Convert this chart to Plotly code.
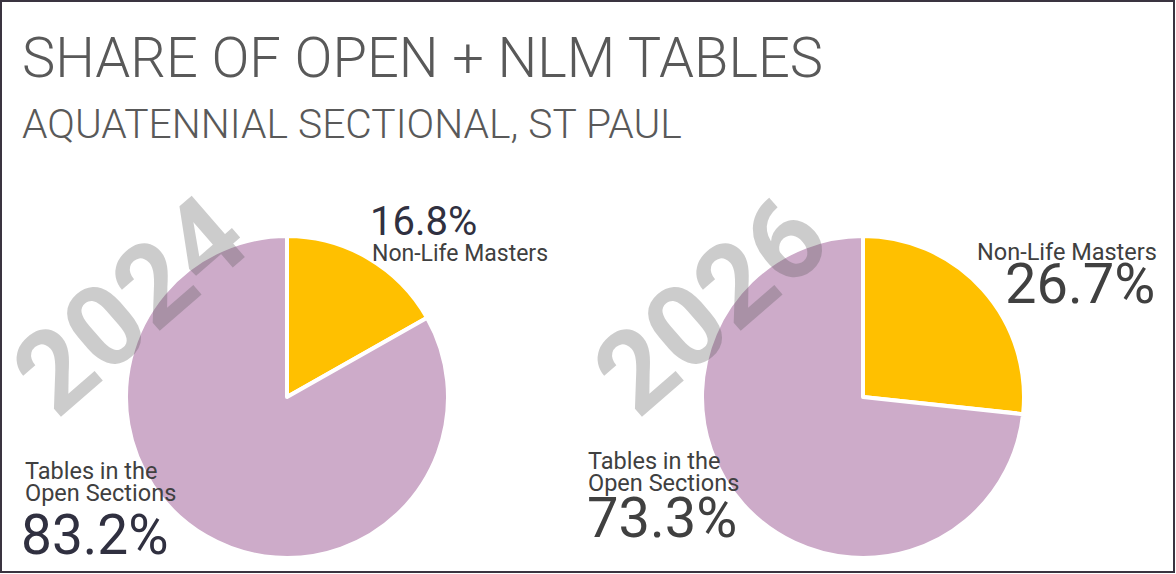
import plotly.graph_objects as go

# ---- data ----
categories = ["Non-Life Masters", "Tables in the Open Sections"]
category_lines = [["Non-Life Masters"], ["Tables in the", "Open Sections"]]
years = ["2024", "2026"]
share_2024 = [16.8, 83.2]
share_2026 = [26.7, 73.3]
title_text = "SHARE OF OPEN + NLM TABLES"
subtitle_text = "AQUATENNIAL SECTIONAL, ST PAUL"

W, H = 1176, 574
colors = ["#FFC000", "#CDABC9"]
TXT = "#404040"


def px(x):
    return x / W


def py(y):
    return 1 - y / H


fig = go.Figure()

domains = [(126, 448), (702, 1024)]
for share, (x0, x1) in zip([share_2024, share_2026], domains):
    fig.add_trace(go.Pie(
        labels=categories,
        values=share,
        sort=False,
        direction="clockwise",
        rotation=0,
        marker=dict(colors=colors, line=dict(color="white", width=4)),
        textinfo="none",
        showlegend=False,
        domain=dict(x=[px(x0), px(x1)], y=[py(558), py(236)]),
    ))

ann = []


def add(text, x, y, size, xanchor="left", color=TXT, weight=None, family="Roboto"):
    f = dict(family=family, size=size, color=color)
    if weight is not None:
        f["weight"] = weight
    ann.append(dict(text=text, x=px(x), y=py(y), xref="paper", yref="paper",
                    xanchor=xanchor, yanchor="middle", showarrow=False, font=f))


# titles
add(title_text, 20, 58, 56, color="#595959", weight=300)
add(subtitle_text, 20, 124, 40.8, color="#595959", weight=300)

# watermarks (year labels)
for yr, cx in zip(years, [130, 711]):
    ann.append(dict(text=yr, x=px(cx), y=py(305), xref="paper", yref="paper",
                    xanchor="center", yanchor="middle", showarrow=False,
                    textangle=-41,
                    font=dict(family="Roboto", size=114, color="rgba(85,85,85,0.3)",
                              weight="bold")))

# left pie labels (2024)
add(f"{share_2024[0]:.1f}%", 368, 222, 40, color="#303040")
add(category_lines[0][0], 370, 253, 23)
add(category_lines[1][0], 23, 471, 23.5)
add(category_lines[1][1], 23, 493, 23.5)
add(f"{share_2024[1]:.1f}%", 19, 535, 55, color="#303040")

# right pie labels (2026)
add(category_lines[0][0], 1159, 252, 23.5, xanchor="right")
add(f"{share_2026[0]:.1f}%", 1157, 284, 56, xanchor="right")
add(category_lines[1][0], 586, 461, 23.5)
add(category_lines[1][1], 586, 483, 23.5)
add(f"{share_2026[1]:.1f}%", 585, 518, 56)

shapes = [
    dict(type="rect", xref="paper", yref="paper",
         x0=px(1), x1=px(1174), y0=py(572), y1=py(1),
         line=dict(color="#3a3440", width=2), fillcolor="rgba(0,0,0,0)"),
]

fig.update_layout(
    width=W, height=H,
    margin=dict(l=0, r=0, t=0, b=0),
    paper_bgcolor="white",
    plot_bgcolor="white",
    annotations=ann,
    shapes=shapes,
    font=dict(family="Roboto", color=TXT),
)

fig.write_html(
    "out.html",
    config={"displayModeBar": False},
    post_script="document.body.style.margin='0';document.body.style.overflow='hidden';",
)
